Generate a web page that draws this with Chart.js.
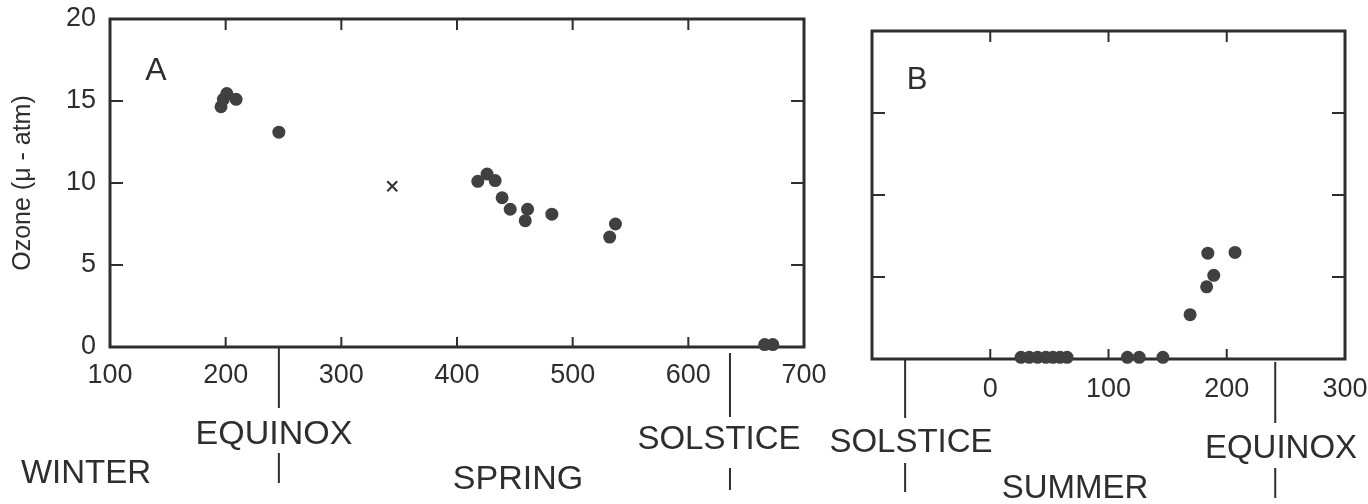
<!DOCTYPE html>
<html>
<head>
<meta charset="utf-8">
<script src="https://cdn.jsdelivr.net/npm/chart.js@4"></script>
<style>
  body { margin: 0; background: #fff; }
  #wrap { position: relative; width: 1368px; height: 504px; overflow: hidden; }
  canvas { position: absolute; top: 0; }
</style>
</head>
<body>
<div id="wrap">
  <canvas id="panelA" width="840" height="504" style="left:0"></canvas>
  <canvas id="panelB" width="548" height="504" style="left:820px"></canvas>
</div>
<script>
// Panel A: winter -> spring (days, ozone in micro-atm)
const aDays  = [196, 198, 201, 209, 246, 418, 426, 433, 439, 446, 461, 459, 482, 537, 532, 666, 673];
const aOzone = [14.65, 15.1, 15.45, 15.1, 13.1, 10.1, 10.55, 10.15, 9.1, 8.4, 8.4, 7.7, 8.1, 7.5, 6.7, 0.15, 0.15];
// the single "x" sample
const aCrossDays  = [344];
const aCrossOzone = [9.8];

// Panel B: summer
const bDays  = [26, 33, 40, 47, 53, 59, 65, 116, 126, 146, 169, 183, 189, 184, 207];
const bOzone = [0.1, 0.1, 0.1, 0.1, 0.1, 0.1, 0.1, 0.1, 0.1, 0.1, 2.7, 4.4, 5.1, 6.45, 6.5];

// tick values
const aXTicks = [200, 300, 400, 500, 600];
const bXTicks = [0, 100, 200];
const yTicks  = [5, 10, 15];

// season markers (day on each panel's axis)
const aEquinoxDay  = 246;
const aSolsticeDay = 636;
const bSolsticeDay = -72;
const bEquinoxDay  = 241;

const ink = '#2e2e2e';
const dot = '#404040';
const fam = '"Liberation Sans", Arial, sans-serif';

const toPoints = (xs, ys) => xs.map((x, i) => ({ x, y: ys[i] }));

// let layout.padding alone decide where the plot box sits
const fixX = h => s => { s.height = h; s.paddingLeft = 0; s.paddingRight = 0; };
const fixY = w => s => { s.width = w; s.paddingTop = 0; s.paddingBottom = 0; };

// box, inward ticks, season lines and words
const framePlugin = {
  id: 'frame',
  beforeDatasetsDraw(chart, args, opts) {
    const { ctx, chartArea: a, scales: { x, y } } = chart;
    ctx.save();
    ctx.strokeStyle = ink;
    ctx.lineWidth = 3;
    ctx.strokeRect(a.left, a.top, a.right - a.left, a.bottom - a.top);
    ctx.lineWidth = 2;
    ctx.beginPath();
    opts.xTicks.forEach(v => {
      const px = x.getPixelForValue(v);
      ctx.moveTo(px, a.top); ctx.lineTo(px, a.top + 11);
      ctx.moveTo(px, a.bottom); ctx.lineTo(px, a.bottom - 10);
    });
    opts.yTicks.forEach(v => {
      const py = y.getPixelForValue(v);
      ctx.moveTo(a.left, py); ctx.lineTo(a.left + 13, py);
      ctx.moveTo(a.right, py); ctx.lineTo(a.right - 13, py);
    });
    opts.markers.forEach(m => {
      const px = x.getPixelForValue(m.day);
      m.segs.forEach(s => { ctx.moveTo(px, s[0]); ctx.lineTo(px, s[1]); });
    });
    ctx.stroke();

    ctx.fillStyle = ink;
    ctx.textAlign = 'center';
    ctx.textBaseline = 'middle';
    opts.words.forEach(w => {
      ctx.font = w.size + 'px ' + fam;
      ctx.fillText(w.text, w.x, w.y);
    });
    ctx.restore();
  }
};

// Panel A
new Chart(document.getElementById('panelA'), {
  type: 'scatter',
  data: {
    datasets: [
      {
        data: toPoints(aDays, aOzone),
        backgroundColor: dot,
        borderWidth: 0,
        pointRadius: 6.5,
        clip: false
      },
      {
        data: toPoints(aCrossDays, aCrossOzone),
        pointStyle: 'crossRot',
        borderColor: ink,
        borderWidth: 2,
        pointRadius: 7,
        clip: false
      }
    ]
  },
  options: {
    responsive: false,
    animation: false,
    layout: { padding: { left: 0, top: 19, right: 36, bottom: 0 } },
    plugins: {
      legend: { display: false },
      tooltip: { enabled: false },
      frame: {
        xTicks: aXTicks,
        yTicks: yTicks,
        markers: [
          { day: aEquinoxDay, segs: [[347, 408], [453, 483]] },
          { day: aSolsticeDay, segs: [[353, 417], [468, 490]] }
        ],
        words: [
          { text: 'A', x: 156, y: 71, size: 32 },
          { text: 'EQUINOX', x: 274, y: 435, size: 34 },
          { text: 'WINTER', x: 86, y: 474, size: 33 },
          { text: 'SPRING', x: 518, y: 480, size: 34 },
          { text: 'SOLSTICE', x: 719, y: 440, size: 33 }
        ]
      }
    },
    scales: {
      x: {
        type: 'linear',
        min: 100,
        max: 700,
        grid: { display: false, drawTicks: false },
        border: { display: false },
        ticks: { stepSize: 100, padding: 12, color: ink, font: { family: fam, size: 27 } },
        afterFit: fixX(157)
      },
      y: {
        min: 0,
        max: 20,
        grid: { display: false, drawTicks: false },
        border: { display: false },
        ticks: { stepSize: 5, padding: 14, color: ink, font: { family: fam, size: 27 } },
        title: {
          display: true,
          text: 'Ozone (μ - atm)',
          color: ink,
          font: { family: fam, size: 25 },
          padding: { top: 8, bottom: 0 }
        },
        afterFit: fixY(110)
      }
    }
  },
  plugins: [framePlugin]
});

// Panel B
new Chart(document.getElementById('panelB'), {
  type: 'scatter',
  data: {
    datasets: [{
      data: toPoints(bDays, bOzone),
      backgroundColor: dot,
      borderWidth: 0,
      pointRadius: 6.5,
      clip: false
    }]
  },
  options: {
    responsive: false,
    animation: false,
    layout: { padding: { left: 0, top: 31, right: 23, bottom: 0 } },
    plugins: {
      legend: { display: false },
      tooltip: { enabled: false },
      frame: {
        xTicks: bXTicks,
        yTicks: yTicks,
        markers: [
          { day: bSolsticeDay, segs: [[359, 418], [463, 492]] },
          { day: bEquinoxDay, segs: [[362, 423], [468, 498]] }
        ],
        words: [
          { text: 'B', x: 97, y: 80, size: 31 },
          { text: 'SOLSTICE', x: 91, y: 443, size: 33 },
          { text: 'SUMMER', x: 255, y: 489, size: 33 },
          { text: 'EQUINOX', x: 461, y: 449, size: 33 }
        ]
      }
    },
    scales: {
      x: {
        type: 'linear',
        min: -100,
        max: 300,
        grid: { display: false, drawTicks: false },
        border: { display: false },
        ticks: {
          stepSize: 100,
          padding: 14,
          color: ink,
          font: { family: fam, size: 27 },
          callback: v => (v < 0 ? '' : v)
        },
        afterFit: fixX(145)
      },
      y: {
        min: 0,
        max: 20,
        grid: { display: false, drawTicks: false },
        border: { display: false },
        ticks: { display: false, stepSize: 5 },
        afterFit: fixY(52)
      }
    }
  },
  plugins: [framePlugin]
});
</script>
</body>
</html>
